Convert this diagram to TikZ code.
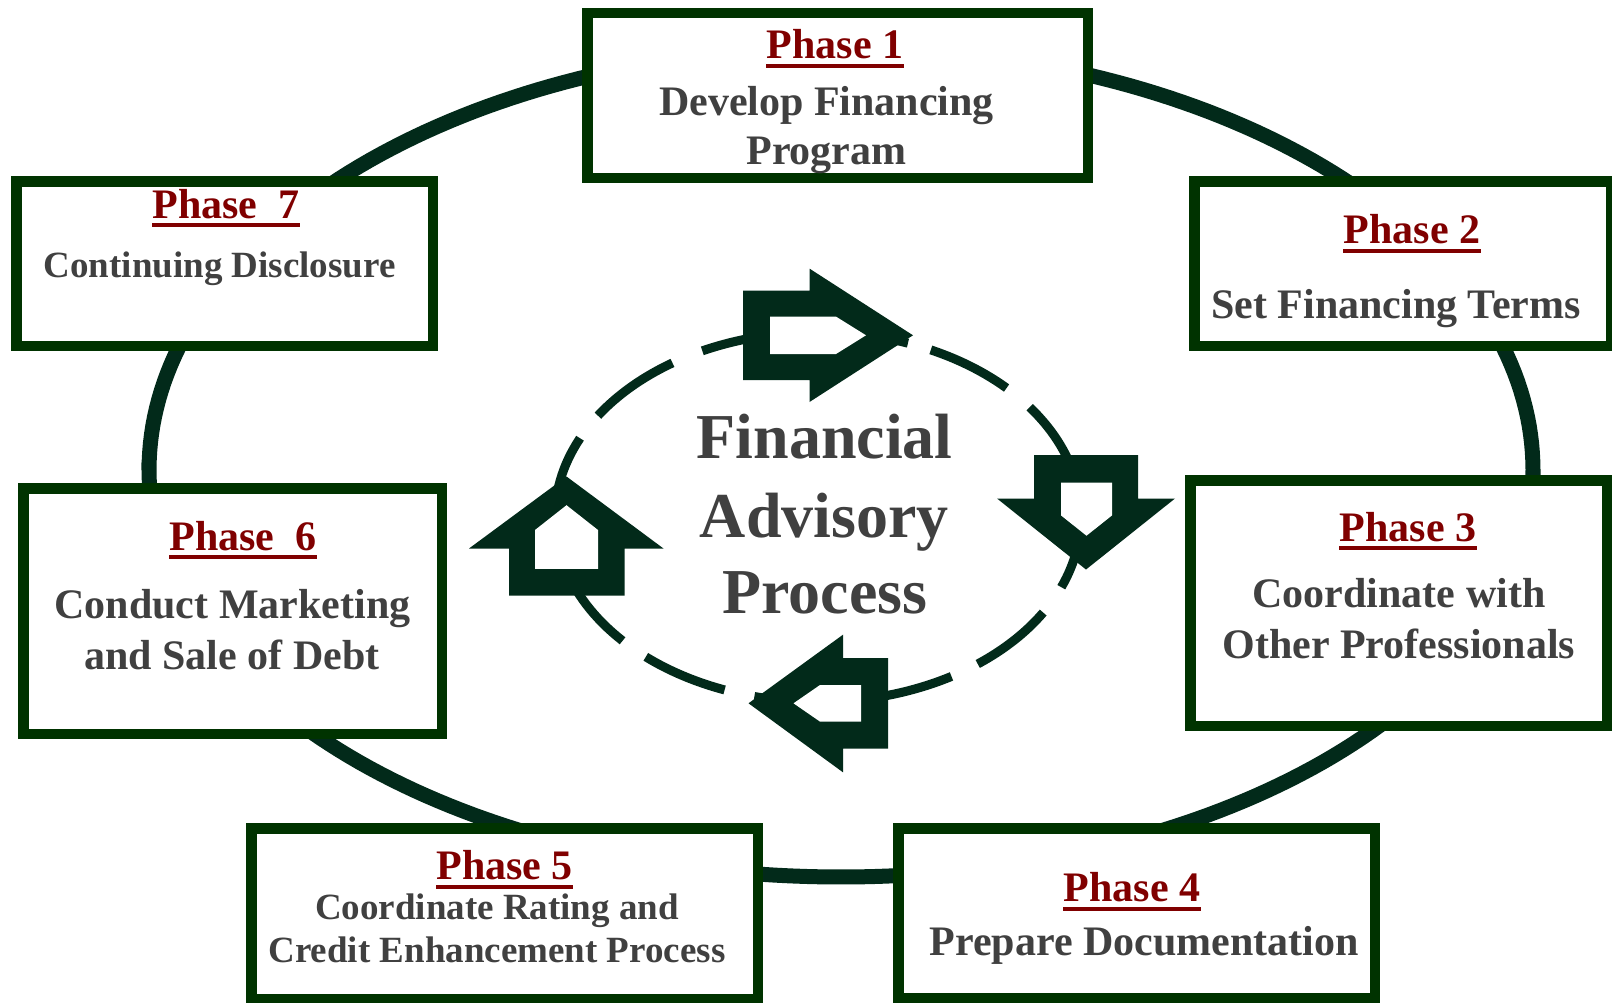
\documentclass[tikz,border=0pt]{standalone}
\usepackage{fontspec}
\setmainfont{Liberation Serif}
\definecolor{boxgreen}{RGB}{0,51,0}
\definecolor{ringgreen}{RGB}{2,42,26}
\definecolor{textgray}{RGB}{64,64,64}
\definecolor{phasered}{RGB}{128,0,0}
\newcommand\phaseunderline[1]{\draw[uline] ([yshift=-3.5pt]#1.base west) -- ([yshift=-3.5pt]#1.base east);}
\begin{document}
\begin{tikzpicture}[x=0.5pt,y=-0.5pt,
  phasebox/.style={draw=boxgreen, line width=5.25pt, fill=white, inner sep=0pt, outer sep=0pt},
  ring/.style={draw=ringgreen, line width=7.5pt},
  dashring/.style={draw=ringgreen, line width=4.5pt},
  blockarrow/.style={fill=ringgreen},
  hollow/.style={fill=white},
  title/.style={inner sep=0pt, anchor=base, text=phasered, font=\bfseries\fontsize{21}{25}\selectfont},
  body/.style={inner sep=0pt, anchor=base, text=textgray, font=\bfseries\fontsize{21}{25}\selectfont},
  smallbody/.style={inner sep=0pt, anchor=base, text=textgray, font=\bfseries\fontsize{18.5}{22}\selectfont},
  centre/.style={inner sep=0pt, anchor=base, text=textgray, font=\bfseries\fontsize{32}{38}\selectfont},
  uline/.style={draw=phasered, line width=2pt}
]
\clip (0,0) rectangle (1612,1002);
\fill[white] (0,0) rectangle (1612,1002);

% outer ring linking the seven phases
\draw[ring] plot[domain=0:180, samples=150] ({841+692*cos(\x)},{470-423*sin(\x)})
  -- plot[domain=180:360, samples=150] ({841+692*cos(\x)},{470-407*sin(\x)}) -- cycle;

% dashed inner cycle
\foreach \a/\b in {-22.3/36.4, 44.2/64.6, 70/116.1, 123.6/146.8, 154.8/222, 229.1/249.2, 256/300.5, 307.4/328.9}
  \draw[dashring] plot[domain=\a:\b, samples=40] ({818+263*cos(\x)},{517-185*sin(\x)});

% block arrows on the inner cycle
\fill[blockarrow] (743,290.6) -- (809.5,290.6) -- (809.5,268.6) -- (913,335.3) -- (809.5,402) -- (809.5,380) -- (743,380) -- cycle;
\fill[hollow] (770,316.6) -- (836,316.6) -- (866,335.3) -- (836,354) -- (770,354) -- cycle;

\fill[blockarrow] (1034,455) -- (1138,455) -- (1138,498.5) -- (1175,498.5) -- (1086,569.5) -- (997,498.5) -- (1034,498.5) -- cycle;
\fill[hollow] (1061,482.6) -- (1112,482.6) -- (1112,515.4) -- (1086.5,535.7) -- (1061,515.4) -- cycle;

\fill[blockarrow] (888,658) -- (888,748.6) -- (843,748.6) -- (843,772.3) -- (748.5,703.3) -- (843,634.7) -- (843,658) -- cycle;
\fill[hollow] (861,685) -- (861,721.6) -- (820,721.6) -- (793.5,703.3) -- (820,685) -- cycle;

\fill[blockarrow] (509,595.5) -- (624.5,595.5) -- (624.5,548.5) -- (663.5,548.5) -- (566.5,476.5) -- (469,548.5) -- (509,548.5) -- cycle;
\fill[hollow] (535,568.8) -- (598,568.8) -- (598,530) -- (566.5,505.2) -- (535,530) -- cycle;

% central caption
\node[centre] (c1) at (824.7,458.9) {Financial};
\node[centre] (c2) at (824.4,537.4) {Advisory};
\node[centre] (c3) at (824.9,613.4) {Process};

% phase boxes
\node[phasebox, minimum width=250.25pt, minimum height=82.5pt] (p1) at (837.5,95.25) {};
\node[phasebox, minimum width=208.25pt, minimum height=82.25pt] (p2) at (1402.5,263.5) {};
\node[phasebox, minimum width=208.25pt, minimum height=122.75pt] (p3) at (1398.5,603) {};
\node[phasebox, minimum width=238.25pt, minimum height=84.75pt] (p4) at (1136.5,913) {};
\node[phasebox, minimum width=253.25pt, minimum height=85.25pt] (p5) at (504.5,913.5) {};
\node[phasebox, minimum width=209.25pt, minimum height=122.75pt] (p6) at (232.5,611) {};
\node[phasebox, minimum width=208.25pt, minimum height=82.25pt] (p7) at (224.5,263.5) {};

% phase texts
\node[title] (t1) at (835,58.5) {Phase 1};
\node[body] (t1a) at (826.5,115) {Develop Financing};
\node[body] (t1b) at (826.5,164.5) {Program};

\node[title] (t2) at (1412,243.8) {Phase 2};
\node[body] (t2a) at (1396,318.4) {Set Financing Terms};

\node[title] (t3) at (1408,541) {Phase 3};
\node[body] (t3a) at (1399,607.3) {Coordinate with};
\node[body] (t3b) at (1398.7,658) {Other Professionals};

\node[title] (t4) at (1132,901.7) {Phase 4};
\node[body] (t4a) at (1144,955) {Prepare Documentation};

\node[title] (t5) at (504.7,879.5) {Phase 5};
\node[smallbody] (t5a) at (497,919) {Coordinate Rating and};
\node[smallbody] (t5b) at (497,962.3) {Credit Enhancement Process};

\node[title] (t6) at (243,550) {Phase~~6};
\node[body] (t6a) at (232.5,618.3) {Conduct Marketing};
\node[body] (t6b) at (232,669.3) {and Sale of Debt};

\node[title] (t7) at (226,218.3) {Phase~~7};
\node[smallbody] (t7a) at (219.6,277.7) {Continuing Disclosure};

\phaseunderline{t1}
\phaseunderline{t2}
\phaseunderline{t3}
\phaseunderline{t4}
\phaseunderline{t5}
\phaseunderline{t6}
\phaseunderline{t7}
\end{tikzpicture}
\end{document}
